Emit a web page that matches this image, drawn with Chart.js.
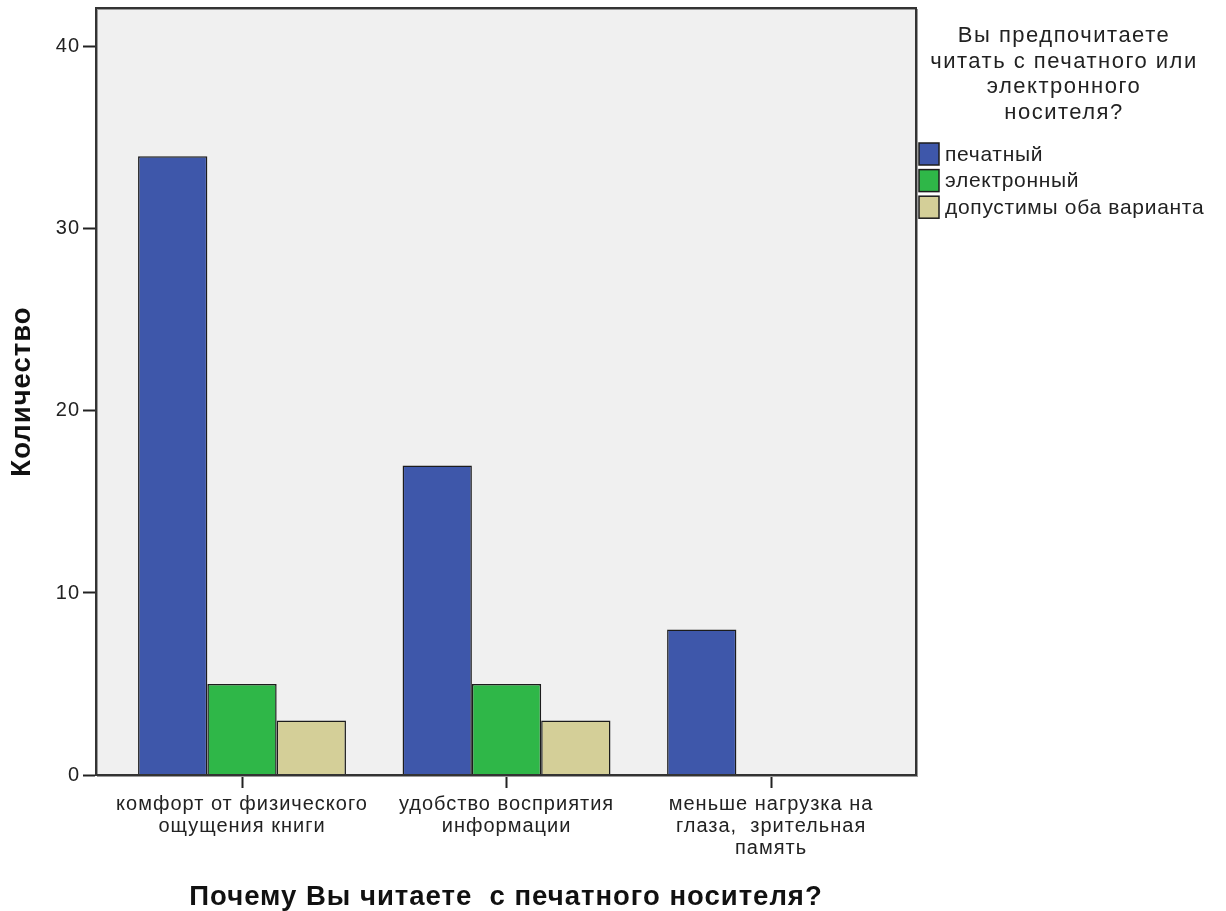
<!DOCTYPE html>
<html>
<head>
<meta charset="utf-8">
<script src="https://cdn.jsdelivr.net/npm/chart.js@4.4.1/dist/chart.umd.min.js"></script>
<style>
  html, body { margin: 0; padding: 0; background: #fff; }
  #wrap { width: 1226px; height: 911px; }
</style>
</head>
<body>
<div id="wrap"><canvas id="chart" width="1226" height="911"></canvas></div>
<script>
// Chart data
const categories = [
    ['комфорт от физического', 'ощущения книги'],
    ['удобство восприятия', 'информации'],
    ['меньше нагрузка на', 'глаза,  зрительная', 'память']
];
const seriesNames = ['печатный', 'электронный', 'допустимы оба варианта'];
const printedValues = [34, 17, 8];
const electronicValues = [5, 5, 0];
const bothValues = [3, 3, 0];
const yTickValues = [0, 10, 20, 30, 40];
const legendTitle = ['Вы предпочитаете', 'читать с печатного или', 'электронного', 'носителя?'];
const xTitle = 'Почему Вы читаете  с печатного носителя?';
const yTitle = 'Количество';

const colors = ['#3e57aa', '#2fb748', '#d4cf98'];
const FONT = "'Liberation Sans', Arial, sans-serif";

function toPoints(values) {
    return values.map((v, i) => ({ x: i, y: v }));
}

// Background, frame and legend drawn around the plot
const plotFrame = {
    id: 'plotFrame',
    beforeDraw(chart) {
        const { ctx, chartArea: a } = chart;
        ctx.save();
        ctx.fillStyle = '#f0f0f0';
        ctx.fillRect(a.left, a.top, a.right - a.left, a.bottom - a.top);
        ctx.restore();
        // SPSS-style text is slightly spaced out
        ctx.letterSpacing = '1px';
    },
    beforeDatasetsDraw(chart) {
        chart.ctx.letterSpacing = '0px';
    },
    afterDraw(chart) {
        const { ctx, chartArea: a } = chart;
        ctx.save();
        // frame
        ctx.strokeStyle = '#9a9a9a';
        ctx.lineWidth = 1;
        ctx.strokeRect(a.left + 1.5, a.top + 1.5, a.right - a.left, a.bottom - a.top);
        ctx.strokeStyle = '#333';
        ctx.lineWidth = 2;
        ctx.strokeRect(a.left, a.top, a.right - a.left, a.bottom - a.top);

        // legend title
        ctx.fillStyle = '#222';
        ctx.font = '22px ' + FONT;
        ctx.letterSpacing = '1.5px';
        ctx.textAlign = 'center';
        ctx.textBaseline = 'middle';
        legendTitle.forEach((line, i) => {
            ctx.fillText(line, 1064, 36 + i * 25.5);
        });

        // legend items
        ctx.font = '21px ' + FONT;
        ctx.letterSpacing = '0.7px';
        ctx.textAlign = 'left';
        chart.data.datasets.forEach((ds, i) => {
            const cy = 154 + i * 26.6;
            ctx.fillStyle = ds.backgroundColor;
            ctx.fillRect(919, cy - 11, 20, 22);
            ctx.strokeStyle = '#1c1c1c';
            ctx.lineWidth = 1.5;
            ctx.strokeRect(919, cy - 11, 20, 22);
            ctx.fillStyle = '#222';
            ctx.fillText(ds.label, 945, cy + 1);
        });
        ctx.restore();
        ctx.letterSpacing = '0px';
    }
};

const ctx = document.getElementById('chart').getContext('2d');

const datasets = [printedValues, electronicValues, bothValues].map((vals, i) => ({
    label: seriesNames[i],
    data: toPoints(vals),
    backgroundColor: colors[i],
    borderColor: '#1c1c1c',
    borderWidth: 1.5,
    categoryPercentage: 0.786,
    barPercentage: 1
}));

window.readingChart = new Chart(ctx, {
    type: 'bar',
    data: { datasets: datasets },
    plugins: [plotFrame],
    options: {
        responsive: false,
        animation: false,
        layout: {
            padding: { top: 8, right: 310, left: 0, bottom: 0 }
        },
        plugins: {
            legend: { display: false },
            tooltip: { enabled: false }
        },
        scales: {
            x: {
                type: 'linear',
                offset: false,
                min: -0.552,
                max: 2.548,
                afterBuildTicks: s => { s.ticks = categories.map((c, i) => ({ value: i })); },
                afterFit: s => {
                    s.height = 136;
                    s.paddingLeft = 0;
                    s.paddingRight = 0;
                },
                grid: {
                    offset: false,
                    drawOnChartArea: false,
                    drawTicks: true,
                    tickLength: 13,
                    tickColor: '#222',
                    tickWidth: 2
                },
                border: { display: true, color: '#222', width: 2 },
                ticks: {
                    maxRotation: 0,
                    autoSkip: false,
                    padding: 5,
                    color: '#222',
                    font: { family: FONT, size: 20, lineHeight: 1.1 },
                    callback: value => categories[value]
                },
                title: {
                    display: true,
                    text: xTitle,
                    color: '#111',
                    font: { family: FONT, size: 27.5, weight: 'bold', lineHeight: 1 },
                    padding: { top: 6.5, bottom: 0 }
                }
            },
            y: {
                min: 0,
                max: 42.14,
                afterBuildTicks: s => { s.ticks = yTickValues.map(v => ({ value: v })); },
                afterFit: s => {
                    s.width = 96;
                    s.paddingTop = 0;
                    s.paddingBottom = 0;
                },
                grid: {
                    drawOnChartArea: false,
                    drawTicks: true,
                    tickLength: 13,
                    tickColor: '#222',
                    tickWidth: 2
                },
                border: { display: true, color: '#222', width: 2 },
                ticks: {
                    padding: 3,
                    color: '#222',
                    font: { family: FONT, size: 20 }
                },
                title: {
                    display: true,
                    text: yTitle,
                    color: '#111',
                    font: { family: FONT, size: 27.5, weight: 'bold', lineHeight: 1.2 },
                    padding: { top: 6, bottom: 0 }
                }
            }
        }
    }
});
</script>
</body>
</html>
